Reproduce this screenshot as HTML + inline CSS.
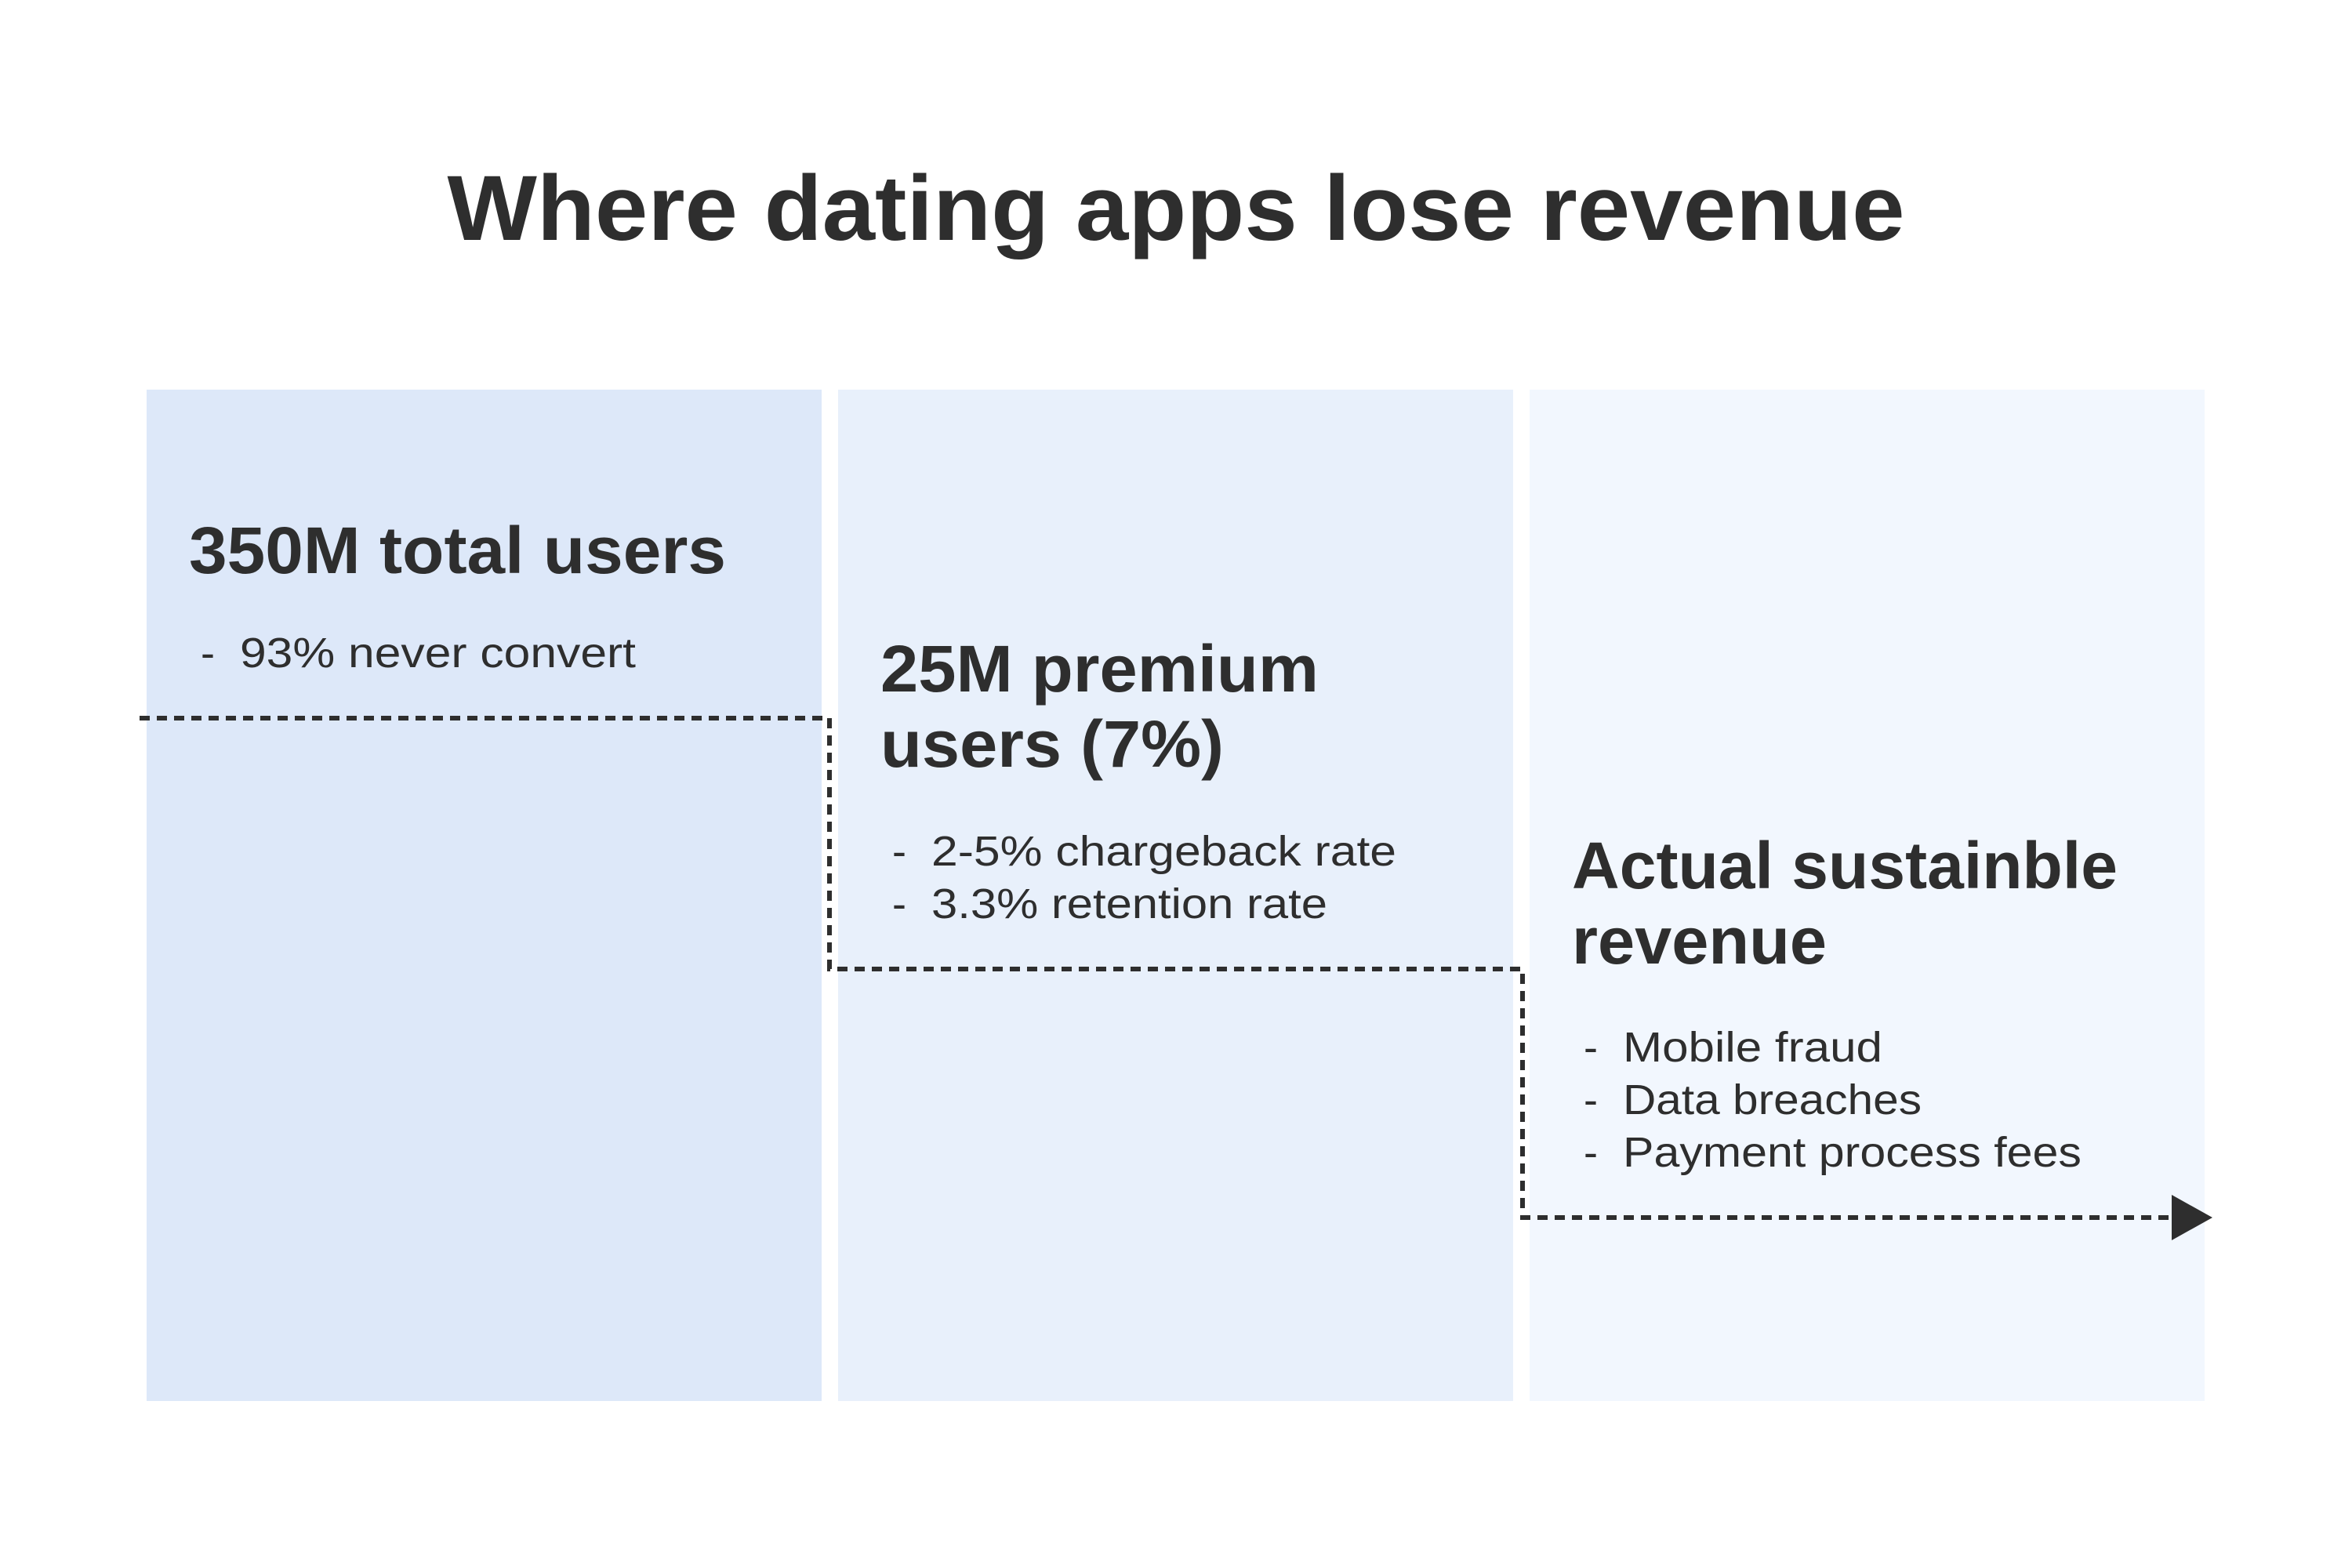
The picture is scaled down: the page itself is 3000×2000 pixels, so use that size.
<!DOCTYPE html>
<html><head><meta charset="utf-8"><style>
html,body{margin:0;padding:0;background:#fff;}
svg{display:block;}
text{font-family:"Liberation Sans",sans-serif;fill:#2e2e2e;}
.h{font-weight:bold;font-size:84px;}
.b{font-size:54px;}
</style></head><body>
<svg width="3000" height="2000" viewBox="0 0 3000 2000">
<rect width="3000" height="2000" fill="#fff"/>
<text x="1500" y="306" text-anchor="middle" font-size="118" font-weight="bold" textLength="1859" lengthAdjust="spacingAndGlyphs">Where dating apps lose revenue</text>
<g id="panels"></g>
<g id="flow"></g>
</svg>
<script>
const stageTitles = [["350M total users"], ["25M premium", "users (7%)"], ["Actual sustainble", "revenue"]];
const stageBullets = [["93% never convert"], ["2-5% chargeback rate", "3.3% retention rate"], ["Mobile fraud", "Data breaches", "Payment process fees"]];
const stageLevels = [916, 1236, 1553];
const panelColors = ["#dde8f9", "#e8f0fb", "#f2f7fe"];

const NS = "http://www.w3.org/2000/svg";
const panelsG = document.getElementById("panels");
const flowG = document.getElementById("flow");
const px = [187, 1069, 1951], pw = 861, panelTop = 497, panelBot = 1787;
const titleY = [731, 882, 1133];
const bulletY = [851, 1104, 1354];
const titleW = [[685], [559, 438], [696, 325]];
const bulletW = [[505], [593, 505], [331, 381, 585]];
function mk(tag, attrs) { const e = document.createElementNS(NS, tag); for (const k in attrs) e.setAttribute(k, attrs[k]); return e; }

stageTitles.forEach((lines, i) => {
  const r = mk("rect", { x: px[i], y: panelTop, width: pw, height: panelBot - panelTop, fill: panelColors[i] });
  
  
  panelsG.appendChild(r);
  lines.forEach((ln, j) => {
    const t = mk("text", { x: px[i] + 54, y: titleY[i] + j * 96, class: "h", textLength: titleW[i][j], lengthAdjust: "spacingAndGlyphs" });
    t.textContent = ln;
    
    
    panelsG.appendChild(t);
  });
  stageBullets[i].forEach((b, j) => {
    const y = bulletY[i] + j * 67;
    const d = mk("text", { x: px[i] + 69, y: y, class: "b" });
    d.textContent = "-";
    
    
    panelsG.appendChild(d);
    const t = mk("text", { x: px[i] + 119, y: y, class: "b", textLength: bulletW[i][j], lengthAdjust: "spacingAndGlyphs" });
    t.textContent = b;
    
    
    panelsG.appendChild(t);
  });
});

const stepX = [178, 1058, 1942, 2775];
let pd = "M" + stepX[0] + " " + stageLevels[0];
for (let i = 0; i < stageLevels.length; i++) {
  pd += " L" + stepX[i + 1] + " " + stageLevels[i];
  if (i + 1 < stageLevels.length) pd += " L" + stepX[i + 1] + " " + stageLevels[i + 1];
}
const flowPath = mk("path", { d: pd, fill: "none", stroke: "#2e2e2e", "stroke-width": 6, "stroke-dasharray": "13 9" });


flowG.appendChild(flowPath);
const ly = stageLevels[stageLevels.length - 1];
const arrowHead = mk("polygon", { points: `2770,${ly - 29} 2822,${ly} 2770,${ly + 29}`, fill: "#2e2e2e" });


flowG.appendChild(arrowHead);
</script>
</body></html>
